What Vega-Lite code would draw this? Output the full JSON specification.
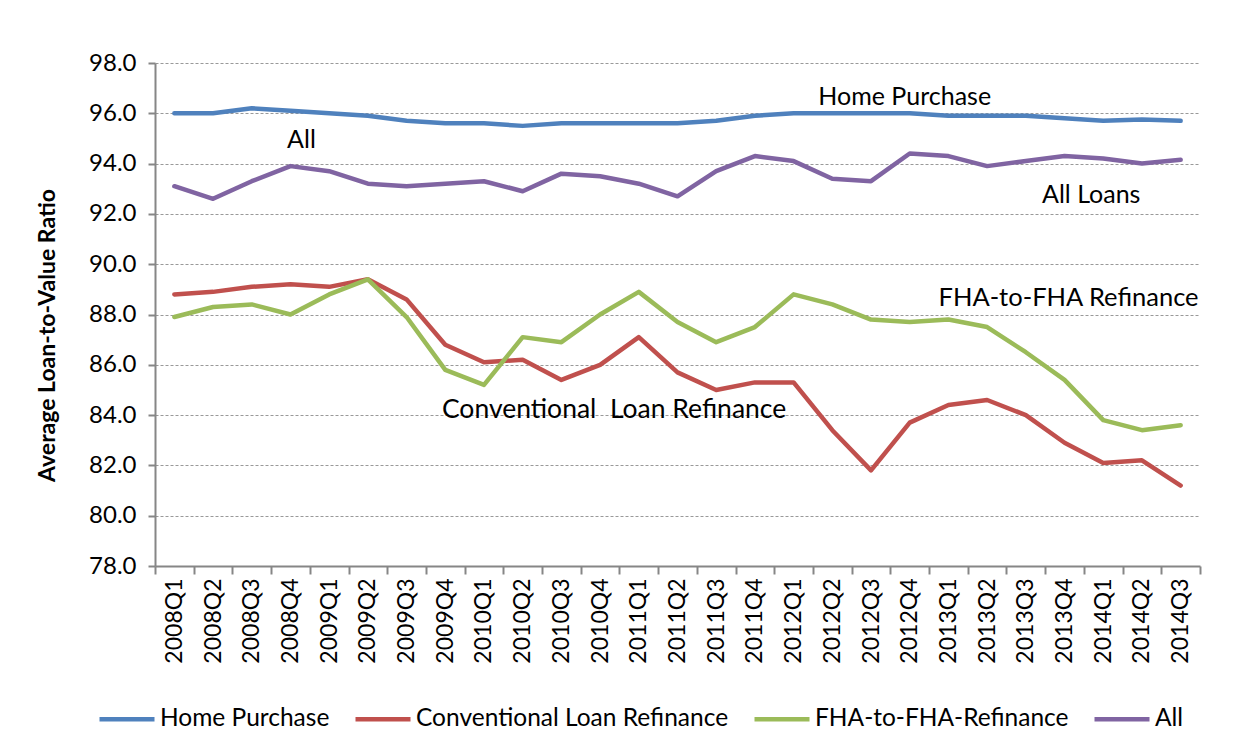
{
  "$schema": "https://vega.github.io/schema/vega-lite/v6.json",
  "autosize": {"type": "none"},
  "width": 1045,
  "height": 503,
  "padding": {"left": 155, "top": 63, "right": 50, "bottom": 189},
  "background": "white",
  "config": {
    "font": "Lato",
    "view": {"stroke": null},
    "axis": {"labelFont": "Lato", "titleFont": "Lato", "labelColor": "#000000", "titleColor": "#000000"}
  },
  "datasets": {
    "ltv": [
      {"q": "2008Q1", "s": "Home Purchase", "v": 96.0},
      {"q": "2008Q2", "s": "Home Purchase", "v": 96.0},
      {"q": "2008Q3", "s": "Home Purchase", "v": 96.2},
      {"q": "2008Q4", "s": "Home Purchase", "v": 96.1},
      {"q": "2009Q1", "s": "Home Purchase", "v": 96.0},
      {"q": "2009Q2", "s": "Home Purchase", "v": 95.9},
      {"q": "2009Q3", "s": "Home Purchase", "v": 95.7},
      {"q": "2009Q4", "s": "Home Purchase", "v": 95.6},
      {"q": "2010Q1", "s": "Home Purchase", "v": 95.6},
      {"q": "2010Q2", "s": "Home Purchase", "v": 95.5},
      {"q": "2010Q3", "s": "Home Purchase", "v": 95.6},
      {"q": "2010Q4", "s": "Home Purchase", "v": 95.6},
      {"q": "2011Q1", "s": "Home Purchase", "v": 95.6},
      {"q": "2011Q2", "s": "Home Purchase", "v": 95.6},
      {"q": "2011Q3", "s": "Home Purchase", "v": 95.7},
      {"q": "2011Q4", "s": "Home Purchase", "v": 95.9},
      {"q": "2012Q1", "s": "Home Purchase", "v": 96.0},
      {"q": "2012Q2", "s": "Home Purchase", "v": 96.0},
      {"q": "2012Q3", "s": "Home Purchase", "v": 96.0},
      {"q": "2012Q4", "s": "Home Purchase", "v": 96.0},
      {"q": "2013Q1", "s": "Home Purchase", "v": 95.9},
      {"q": "2013Q2", "s": "Home Purchase", "v": 95.9},
      {"q": "2013Q3", "s": "Home Purchase", "v": 95.9},
      {"q": "2013Q4", "s": "Home Purchase", "v": 95.8},
      {"q": "2014Q1", "s": "Home Purchase", "v": 95.7},
      {"q": "2014Q2", "s": "Home Purchase", "v": 95.75},
      {"q": "2014Q3", "s": "Home Purchase", "v": 95.7},
      {"q": "2008Q1", "s": "Conventional Loan Refinance", "v": 88.8},
      {"q": "2008Q2", "s": "Conventional Loan Refinance", "v": 88.9},
      {"q": "2008Q3", "s": "Conventional Loan Refinance", "v": 89.1},
      {"q": "2008Q4", "s": "Conventional Loan Refinance", "v": 89.2},
      {"q": "2009Q1", "s": "Conventional Loan Refinance", "v": 89.1},
      {"q": "2009Q2", "s": "Conventional Loan Refinance", "v": 89.4},
      {"q": "2009Q3", "s": "Conventional Loan Refinance", "v": 88.6},
      {"q": "2009Q4", "s": "Conventional Loan Refinance", "v": 86.8},
      {"q": "2010Q1", "s": "Conventional Loan Refinance", "v": 86.1},
      {"q": "2010Q2", "s": "Conventional Loan Refinance", "v": 86.2},
      {"q": "2010Q3", "s": "Conventional Loan Refinance", "v": 85.4},
      {"q": "2010Q4", "s": "Conventional Loan Refinance", "v": 86.0},
      {"q": "2011Q1", "s": "Conventional Loan Refinance", "v": 87.1},
      {"q": "2011Q2", "s": "Conventional Loan Refinance", "v": 85.7},
      {"q": "2011Q3", "s": "Conventional Loan Refinance", "v": 85.0},
      {"q": "2011Q4", "s": "Conventional Loan Refinance", "v": 85.3},
      {"q": "2012Q1", "s": "Conventional Loan Refinance", "v": 85.3},
      {"q": "2012Q2", "s": "Conventional Loan Refinance", "v": 83.4},
      {"q": "2012Q3", "s": "Conventional Loan Refinance", "v": 81.8},
      {"q": "2012Q4", "s": "Conventional Loan Refinance", "v": 83.7},
      {"q": "2013Q1", "s": "Conventional Loan Refinance", "v": 84.4},
      {"q": "2013Q2", "s": "Conventional Loan Refinance", "v": 84.6},
      {"q": "2013Q3", "s": "Conventional Loan Refinance", "v": 84.0},
      {"q": "2013Q4", "s": "Conventional Loan Refinance", "v": 82.9},
      {"q": "2014Q1", "s": "Conventional Loan Refinance", "v": 82.1},
      {"q": "2014Q2", "s": "Conventional Loan Refinance", "v": 82.2},
      {"q": "2014Q3", "s": "Conventional Loan Refinance", "v": 81.2},
      {"q": "2008Q1", "s": "FHA-to-FHA-Refinance", "v": 87.9},
      {"q": "2008Q2", "s": "FHA-to-FHA-Refinance", "v": 88.3},
      {"q": "2008Q3", "s": "FHA-to-FHA-Refinance", "v": 88.4},
      {"q": "2008Q4", "s": "FHA-to-FHA-Refinance", "v": 88.0},
      {"q": "2009Q1", "s": "FHA-to-FHA-Refinance", "v": 88.8},
      {"q": "2009Q2", "s": "FHA-to-FHA-Refinance", "v": 89.4},
      {"q": "2009Q3", "s": "FHA-to-FHA-Refinance", "v": 87.9},
      {"q": "2009Q4", "s": "FHA-to-FHA-Refinance", "v": 85.8},
      {"q": "2010Q1", "s": "FHA-to-FHA-Refinance", "v": 85.2},
      {"q": "2010Q2", "s": "FHA-to-FHA-Refinance", "v": 87.1},
      {"q": "2010Q3", "s": "FHA-to-FHA-Refinance", "v": 86.9},
      {"q": "2010Q4", "s": "FHA-to-FHA-Refinance", "v": 88.0},
      {"q": "2011Q1", "s": "FHA-to-FHA-Refinance", "v": 88.9},
      {"q": "2011Q2", "s": "FHA-to-FHA-Refinance", "v": 87.7},
      {"q": "2011Q3", "s": "FHA-to-FHA-Refinance", "v": 86.9},
      {"q": "2011Q4", "s": "FHA-to-FHA-Refinance", "v": 87.5},
      {"q": "2012Q1", "s": "FHA-to-FHA-Refinance", "v": 88.8},
      {"q": "2012Q2", "s": "FHA-to-FHA-Refinance", "v": 88.4},
      {"q": "2012Q3", "s": "FHA-to-FHA-Refinance", "v": 87.8},
      {"q": "2012Q4", "s": "FHA-to-FHA-Refinance", "v": 87.7},
      {"q": "2013Q1", "s": "FHA-to-FHA-Refinance", "v": 87.8},
      {"q": "2013Q2", "s": "FHA-to-FHA-Refinance", "v": 87.5},
      {"q": "2013Q3", "s": "FHA-to-FHA-Refinance", "v": 86.5},
      {"q": "2013Q4", "s": "FHA-to-FHA-Refinance", "v": 85.4},
      {"q": "2014Q1", "s": "FHA-to-FHA-Refinance", "v": 83.8},
      {"q": "2014Q2", "s": "FHA-to-FHA-Refinance", "v": 83.4},
      {"q": "2014Q3", "s": "FHA-to-FHA-Refinance", "v": 83.6},
      {"q": "2008Q1", "s": "All", "v": 93.1},
      {"q": "2008Q2", "s": "All", "v": 92.6},
      {"q": "2008Q3", "s": "All", "v": 93.3},
      {"q": "2008Q4", "s": "All", "v": 93.9},
      {"q": "2009Q1", "s": "All", "v": 93.7},
      {"q": "2009Q2", "s": "All", "v": 93.2},
      {"q": "2009Q3", "s": "All", "v": 93.1},
      {"q": "2009Q4", "s": "All", "v": 93.2},
      {"q": "2010Q1", "s": "All", "v": 93.3},
      {"q": "2010Q2", "s": "All", "v": 92.9},
      {"q": "2010Q3", "s": "All", "v": 93.6},
      {"q": "2010Q4", "s": "All", "v": 93.5},
      {"q": "2011Q1", "s": "All", "v": 93.2},
      {"q": "2011Q2", "s": "All", "v": 92.7},
      {"q": "2011Q3", "s": "All", "v": 93.7},
      {"q": "2011Q4", "s": "All", "v": 94.3},
      {"q": "2012Q1", "s": "All", "v": 94.1},
      {"q": "2012Q2", "s": "All", "v": 93.4},
      {"q": "2012Q3", "s": "All", "v": 93.3},
      {"q": "2012Q4", "s": "All", "v": 94.4},
      {"q": "2013Q1", "s": "All", "v": 94.3},
      {"q": "2013Q2", "s": "All", "v": 93.9},
      {"q": "2013Q3", "s": "All", "v": 94.1},
      {"q": "2013Q4", "s": "All", "v": 94.3},
      {"q": "2014Q1", "s": "All", "v": 94.2},
      {"q": "2014Q2", "s": "All", "v": 94.0},
      {"q": "2014Q3", "s": "All", "v": 94.15}
    ]
  },
  "layer": [
    {
      "data": {"name": "ltv"},
      "mark": {"type": "line", "strokeWidth": 4.5, "strokeCap": "round", "strokeJoin": "round"},
      "encoding": {
        "x": {
          "field": "q", "type": "ordinal", "bandPosition": 0.5,
          "scale": {"type": "band", "paddingInner": 0, "paddingOuter": 0},
          "axis": {
            "title": null, "labelAngle": -90, "labelFontSize": 23, "labelPadding": 4,
            "tickBand": "extent", "tickSize": 8, "tickColor": "#868686", "tickWidth": 2,
            "domainColor": "#868686", "domainWidth": 2, "grid": false, "labelBaseline": "middle"
          }
        },
        "y": {
          "field": "v", "type": "quantitative",
          "scale": {"domain": [78, 98], "nice": false, "zero": false},
          "axis": {
            "title": "Average Loan-to-Value Ratio", "titleFontSize": 23, "titleFontWeight": "bold",
            "titlePadding": 29, "titleY": 272, "values": [78, 80, 82, 84, 86, 88, 90, 92, 94, 96, 98], "format": ".1f",
            "labelFontSize": 24, "labelPadding": 12, "tickSize": 7, "tickColor": "#868686", "tickWidth": 2,
            "domainColor": "#868686", "domainWidth": 2,
            "grid": true, "gridColor": "#999999", "gridDash": [3, 2], "gridWidth": 1
          }
        },
        "color": {
          "field": "s", "type": "nominal",
          "scale": {
            "domain": ["Home Purchase", "Conventional Loan Refinance", "FHA-to-FHA-Refinance", "All"],
            "range": ["#4f81bd", "#c0504d", "#9bbb59", "#8064a2"]
          },
          "legend": {
            "title": null, "orient": "none", "direction": "horizontal",
            "legendX": -58, "legendY": 626,
            "symbolType": "stroke", "symbolSize": 3025, "symbolStrokeWidth": 4.5,
            "labelFontSize": 24.5, "labelOffset": 3, "columnPadding": 16, "labelLimit": 400
          }
        }
      }
    },
    {
      "data": {"values": [{"q": "2012Q4", "v": 96.65, "label": "Home Purchase"}]},
      "mark": {"type": "text", "fontSize": 25, "font": "Lato", "color": "#000000", "align": "center", "baseline": "middle", "dx": -5},
      "encoding": {
        "x": {"field": "q", "type": "ordinal", "bandPosition": 0.5},
        "y": {"field": "v", "type": "quantitative"},
        "text": {"field": "label"}
      }
    },
    {
      "data": {"values": [{"q": "2013Q4", "v": 88.66, "label": "FHA-to-FHA Refinance"}]},
      "mark": {"type": "text", "fontSize": 25.5, "font": "Lato", "color": "#000000", "align": "center", "baseline": "middle", "dx": 4},
      "encoding": {
        "x": {"field": "q", "type": "ordinal", "bandPosition": 0.5},
        "y": {"field": "v", "type": "quantitative"},
        "text": {"field": "label"}
      }
    },
    {
      "data": {"values": [{"q": "2010Q4", "v": 84.2, "label": "Conventional\u00a0 Loan Refinance"}]},
      "mark": {"type": "text", "fontSize": 26.5, "font": "Lato", "color": "#000000", "align": "center", "baseline": "middle", "dx": 14},
      "encoding": {
        "x": {"field": "q", "type": "ordinal", "bandPosition": 0.5},
        "y": {"field": "v", "type": "quantitative"},
        "text": {"field": "label"}
      }
    },
    {
      "data": {"values": [{"q": "2008Q4", "v": 94.94, "label": "All"}]},
      "mark": {"type": "text", "fontSize": 25, "font": "Lato", "color": "#000000", "align": "center", "baseline": "middle", "dx": 11},
      "encoding": {
        "x": {"field": "q", "type": "ordinal", "bandPosition": 0.5},
        "y": {"field": "v", "type": "quantitative"},
        "text": {"field": "label"}
      }
    },
    {
      "data": {"values": [{"q": "2014Q1", "v": 92.75, "label": "All Loans"}]},
      "mark": {"type": "text", "fontSize": 25, "font": "Lato", "color": "#000000", "align": "center", "baseline": "middle", "dx": -12},
      "encoding": {
        "x": {"field": "q", "type": "ordinal", "bandPosition": 0.5},
        "y": {"field": "v", "type": "quantitative"},
        "text": {"field": "label"}
      }
    }
  ]
}
